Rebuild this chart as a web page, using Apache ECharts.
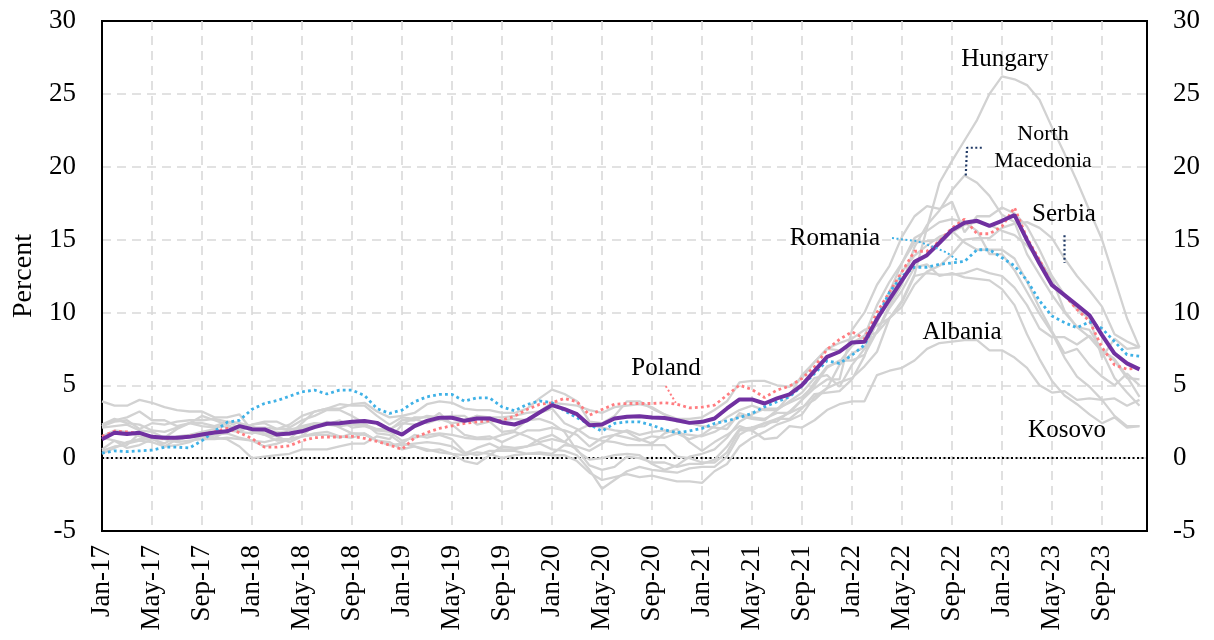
<!DOCTYPE html>
<html>
<head>
<meta charset="utf-8">
<script src="https://cdn.jsdelivr.net/npm/echarts@6/dist/echarts.min.js"></script>
<style>html,body{margin:0;padding:0;background:#fff}#chart{width:1214px;height:640px}</style>
</head>
<body>
<div id="chart"></div>
<script>
// Tick labels every 4 months (Jan-17 ... Sep-23)
const tickLabels = ['Jan-17','May-17','Sep-17','Jan-18','May-18','Sep-18','Jan-19','May-19','Sep-19',
  'Jan-20','May-20','Sep-20','Jan-21','May-21','Sep-21','Jan-22','May-22','Sep-22','Jan-23','May-23','Sep-23'];

// Monthly values, Jan-17 .. Dec-23 (84 months)
const average = [
  1.30,1.74,1.65,1.74,1.46,1.40,1.40,1.46,1.62,1.76,1.84,2.20,
  1.99,1.97,1.62,1.69,1.84,2.13,2.36,2.40,2.49,2.55,2.42,1.97,
  1.62,2.20,2.56,2.77,2.77,2.56,2.72,2.72,2.45,2.31,2.60,3.13,
  3.64,3.36,3.02,2.26,2.31,2.72,2.84,2.88,2.79,2.75,2.60,2.42,
  2.49,2.72,3.41,4.03,4.03,3.75,4.10,4.37,5.01,5.99,6.95,7.30,
  7.94,7.98,9.55,10.9,12.2,13.47,13.93,14.78,15.65,16.15,16.29,15.94,
  16.29,16.68,14.96,13.36,11.87,11.19,10.50,9.81,8.44,7.18,6.50,6.09];
const poland = [
  1.50,1.85,1.80,1.70,1.45,1.35,1.40,1.50,1.65,1.80,2.05,1.75,
  1.35,0.75,0.75,0.85,1.20,1.40,1.45,1.45,1.50,1.35,1.15,0.90,
  0.60,1.40,1.76,2.04,2.22,2.38,2.49,2.56,2.60,2.88,3.34,3.69,
  3.80,4.10,3.87,2.95,3.34,3.70,3.75,3.75,3.75,3.80,3.70,3.45,
  3.50,3.64,4.32,5.01,4.71,4.16,4.67,4.94,5.47,6.27,7.46,8.15,
  8.67,8.20,10.0,11.4,12.8,14.2,14.2,14.9,15.8,16.4,15.4,15.4,
  15.9,17.2,15.1,13.6,11.9,11.2,10.2,9.4,7.6,6.4,6.1,6.2];
const romania = [
  0.35,0.50,0.45,0.50,0.55,0.75,0.75,0.70,1.20,1.85,2.45,2.60,
  3.35,3.75,3.95,4.25,4.55,4.67,4.40,4.67,4.67,4.30,3.40,3.07,
  3.30,3.87,4.21,4.37,4.37,3.91,4.14,4.14,3.52,3.25,3.68,3.93,
  3.80,3.25,2.77,2.31,1.85,2.38,2.49,2.49,2.26,1.95,1.74,1.87,
  2.04,2.38,2.56,2.79,3.07,3.52,3.87,4.21,4.95,5.80,6.68,6.50,
  7.07,7.76,9.60,11.4,12.5,13.1,13.1,13.3,13.4,13.5,14.3,14.3,
  13.75,13.2,12.2,10.8,9.75,9.30,8.95,9.36,8.90,8.00,7.10,7.00];
const hungary = [
  2.3,2.7,2.4,2.3,1.9,1.8,2.1,2.4,2.4,2.2,2.5,2.1,
  2.1,2.1,2.0,2.3,2.9,3.2,3.4,3.4,3.7,3.8,3.2,2.8,
  2.9,3.1,3.7,3.9,3.8,3.4,3.3,3.3,3.1,3.1,3.4,4.1,
  4.7,4.4,3.9,2.5,2.4,2.9,3.9,3.9,3.4,3.0,2.7,2.7,
  2.8,3.3,3.9,5.2,5.3,5.3,5.0,4.9,5.5,6.6,7.5,7.4,
  7.9,8.4,8.6,9.6,10.8,12.6,15.8,18.9,20.4,21.8,23.2,25.0,
  26.2,26.0,25.6,24.6,22.7,20.9,19.0,17.0,15.0,12.3,9.6,7.6];
const northMacedonia = [
  0.6,1.2,0.7,0.9,1.3,1.0,1.5,1.6,1.8,2.0,2.5,2.4,
  1.8,1.6,1.2,1.3,1.5,1.7,1.8,1.5,1.4,1.7,1.2,0.9,
  1.0,1.6,1.4,1.6,1.3,0.4,0.2,0.5,0.5,0.5,0.3,0.4,
  0.3,0.9,0.8,0.5,1.0,1.6,1.4,1.2,1.5,1.4,1.7,1.6,
  1.5,1.8,2.3,2.9,2.7,2.6,3.3,3.9,4.5,5.5,5.7,4.9,
  6.4,7.5,8.7,10.5,11.9,14.5,16.0,17.0,18.4,19.4,18.9,18.0,
  16.7,16.2,14.0,12.6,11.2,10.0,9.0,8.3,7.3,5.5,4.5,3.6];
const serbia = [
  3.9,3.6,3.6,4.0,3.8,3.5,3.3,3.2,3.2,2.8,2.8,3.0,
  1.9,1.6,1.5,1.1,1.5,2.3,2.3,2.6,2.1,2.2,1.9,2.0,
  2.4,2.3,2.5,3.1,2.3,1.6,1.4,1.5,1.1,1.5,1.9,1.9,
  2.1,1.9,1.6,0.8,1.4,1.6,1.9,1.6,1.8,1.9,1.7,1.3,
  1.6,2.2,2.8,3.3,3.6,3.3,3.3,4.3,5.7,6.6,7.5,7.9,
  8.2,8.8,9.1,9.6,10.4,11.9,12.8,13.2,14.0,15.0,15.1,15.1,
  15.8,16.1,16.2,15.8,15.1,13.7,12.5,11.5,10.4,8.5,8.0,7.6];
const albania = [
  2.1,2.2,2.3,1.9,1.8,1.4,2.0,2.4,2.2,2.1,2.2,1.8,
  2.3,2.4,2.0,2.0,2.0,2.4,2.3,2.2,2.3,2.3,1.9,1.8,
  1.2,1.4,1.6,1.7,1.6,1.4,1.3,1.3,1.6,1.8,1.5,1.1,
  1.3,1.1,1.9,2.3,2.1,1.9,1.8,1.3,1.0,1.7,2.0,1.1,
  0.5,1.1,1.6,2.2,1.9,1.3,1.4,2.2,2.1,2.6,3.3,3.7,
  3.9,3.9,5.7,6.0,6.2,6.7,7.5,7.9,8.0,8.1,8.1,7.4,
  7.4,6.9,6.2,5.0,4.5,4.6,4.0,4.1,4.0,4.1,3.6,4.0];
const kosovo = [
  1.5,1.9,1.8,1.5,1.3,1.5,1.2,1.5,1.6,1.4,1.3,0.8,
  0.0,0.1,0.2,0.3,0.6,0.6,0.6,0.8,1.0,1.0,1.5,1.3,
  2.3,2.8,2.8,2.6,2.9,2.9,2.3,2.5,2.6,2.7,2.6,2.7,
  2.4,1.8,0.5,-0.1,0.0,0.2,0.3,0.2,-0.4,-0.8,-0.5,0.1,
  0.3,0.6,1.4,2.5,3.0,3.4,3.4,3.8,4.2,5.0,6.2,6.7,
  6.7,7.1,8.7,10.3,11.5,13.1,13.3,12.5,12.7,12.4,12.3,12.2,
  11.6,10.5,8.5,6.8,5.3,4.3,3.7,3.0,2.4,2.8,2.1,2.2];
const bosnia = [
  0.3,0.7,1.1,1.3,1.3,1.3,1.1,1.2,1.3,1.3,1.4,1.3,
  1.2,1.1,1.3,1.3,1.5,1.6,1.6,1.4,1.7,1.7,1.2,1.1,
  0.6,0.8,0.5,0.6,0.3,0.2,0.4,0.3,0.0,0.2,0.3,0.3,
  0.2,0.2,-0.2,-1.0,-1.5,-1.3,-1.1,-1.3,-1.2,-1.4,-1.6,-1.6,
  -1.7,-0.9,-0.4,0.8,1.4,1.8,2.3,2.6,3.0,4.2,4.8,6.4,
  7.2,7.6,9.3,11.4,13.4,15.1,15.6,16.2,16.4,16.2,15.6,14.0,
  14.0,12.9,11.4,9.9,8.6,6.9,5.6,4.9,4.0,2.9,2.2,2.2];
const montenegro = [
  2.2,2.6,2.8,3.2,2.6,2.6,2.2,2.4,2.9,2.6,2.3,1.9,
  2.3,2.5,2.5,2.1,2.6,2.9,3.3,3.3,2.9,2.4,1.7,1.6,
  1.0,0.8,0.6,0.4,0.3,-0.2,-0.4,0.2,0.8,0.7,0.8,1.0,
  0.6,0.5,0.2,-0.8,-2.1,-1.5,-0.9,-0.6,-0.8,-0.9,-1.0,-0.7,
  -0.6,-0.6,0.1,1.6,2.1,2.4,2.7,2.7,3.4,4.4,4.5,4.6,
  5.4,7.0,9.7,11.1,12.8,13.9,14.6,15.2,15.5,16.0,16.2,16.0,
  15.6,15.3,14.6,13.6,12.3,10.1,9.0,8.8,7.4,6.8,5.6,4.2];
const bulgaria = [
  0.5,0.8,0.9,1.7,1.4,0.8,0.9,1.1,1.5,1.4,1.9,1.8,
  1.7,1.9,1.8,1.6,2.4,3.2,3.4,3.7,3.6,3.6,2.9,2.3,
  2.8,2.7,2.4,2.7,2.4,2.5,2.9,2.5,1.8,1.9,2.6,3.1,
  3.4,2.4,2.0,1.4,1.2,1.1,0.9,0.9,0.9,0.9,0.1,0.0,
  -0.3,-0.3,0.4,1.9,1.9,2.4,2.5,3.2,4.0,5.2,6.3,6.6,
  7.7,8.4,10.5,12.1,13.4,14.8,14.9,15.0,15.6,14.8,14.3,14.3,
  14.3,13.7,12.1,10.3,8.7,7.2,7.5,6.4,5.6,5.0,5.8,5.0];
const croatia = [
  1.4,1.2,1.0,1.2,1.1,0.8,1.3,1.5,1.3,1.6,1.7,1.4,
  1.2,0.8,1.0,1.3,2.1,2.2,2.5,2.1,1.7,1.6,1.2,0.9,
  0.9,1.0,1.1,1.0,0.8,0.3,0.7,1.0,0.6,0.6,0.8,1.3,
  1.6,1.1,0.6,-0.5,-0.8,-0.6,0.1,0.0,-0.3,-0.3,-0.6,-0.4,
  -0.4,-0.1,0.8,2.0,2.1,2.2,2.7,3.1,3.5,4.0,4.8,5.2,
  5.5,6.3,7.3,9.6,10.7,12.5,12.7,12.6,12.6,12.7,13.0,12.7,
  12.5,11.7,10.5,8.9,8.3,8.3,7.8,8.4,7.4,6.7,5.5,5.4];
const czechia = [
  2.2,2.5,2.6,2.0,2.4,2.3,2.5,2.6,2.6,2.7,2.5,2.4,
  2.2,1.7,1.7,1.9,2.2,2.4,2.3,2.4,2.3,2.3,2.0,1.9,
  2.6,2.6,2.9,2.8,2.9,2.6,2.9,2.8,2.8,2.9,3.1,3.2,
  3.8,3.7,3.6,3.3,3.1,3.5,3.6,3.7,3.5,3.0,2.5,2.4,
  2.2,2.1,2.0,3.1,2.8,2.7,3.1,3.1,4.0,4.8,5.4,5.4,
  8.8,10.0,11.9,13.2,15.2,16.6,17.3,17.1,17.6,15.5,16.6,16.6,
  17.2,16.8,15.9,14.3,12.5,11.2,10.2,9.6,6.9,8.2,7.5,7.6];

// Leader lines, in data units [month index, percent]
const leaderPoland = [[45.1, 4.95], [45.9, 3.8]];
const leaderRomania = [[63.2, 15.1], [65.2, 14.9], [66.5, 14.5], [67.6, 14.1], [68.4, 13.6]];
const leaderNorthMacedonia = [[69.1, 19.4], [69.2, 21.3], [70.4, 21.3]];
const leaderSerbia = [[77.0, 15.3], [77.0, 13.4]];

const FONT = '"Liberation Serif", "Times New Roman", serif';
const toXY = arr => arr.map((v, i) => [i, v]);

const greys = [
  ['Hungary', hungary], ['North Macedonia', northMacedonia], ['Serbia', serbia],
  ['Albania', albania], ['Kosovo', kosovo], ['Bosnia and Herzegovina', bosnia],
  ['Montenegro', montenegro], ['Bulgaria', bulgaria], ['Croatia', croatia], ['Czech Republic', czechia]
];

const series = [];
series.push({
  name: 'zero', type: 'line', data: [], silent: true,
  markLine: {
    silent: true, symbol: 'none', z: 1, label: {show: false},
    lineStyle: {color: '#000', width: 2, type: [2, 2.5]},
    emphasis: {disabled: true},
    data: [{yAxis: 0}]
  }
});
greys.forEach(([name, arr]) => series.push({
  name, type: 'line', data: toXY(arr), showSymbol: false, silent: true, z: 2,
  lineStyle: {color: '#d2d2d2', width: 2.3}
}));
series.push({
  name: 'Poland', type: 'line', data: toXY(poland), showSymbol: false, silent: true, z: 3,
  lineStyle: {color: '#ff7c80', width: 2.8, type: [2.8, 3.2]}
});
series.push({
  name: 'Romania', type: 'line', data: toXY(romania), showSymbol: false, silent: true, z: 3,
  lineStyle: {color: '#3fb1e6', width: 2.8, type: [2.8, 3.2]}
});
series.push({
  name: 'Average', type: 'line', data: toXY(average), showSymbol: false, silent: true, z: 4,
  lineStyle: {color: '#7030a0', width: 4}
});
const leader = (name, pts, color, w) => ({
  name, type: 'line', data: pts, showSymbol: false, silent: true, z: 5,
  lineStyle: {color, width: w, type: [2, 2.5]}
});
series.push(leader('leaderPoland', leaderPoland, '#ff7c80', 2));
series.push(leader('leaderRomania', leaderRomania, '#3fb1e6', 2));
series.push(leader('leaderNorthMacedonia', leaderNorthMacedonia, '#1f3864', 2.2));
series.push(leader('leaderSerbia', leaderSerbia, '#1f3864', 2.2));

const note = (text, x, y, size) => ({
  type: 'text', x, y, silent: true, z: 10,
  style: {text, font: size + 'px ' + FONT, fill: '#000',
    textAlign: 'center', textVerticalAlign: 'middle', align: 'center', verticalAlign: 'middle'}
});

const splitStyle = {color: '#d9d9d9', width: 1.6, type: [9, 6]};
const chart = echarts.init(document.getElementById('chart'), null, {renderer: 'canvas'});
chart.setOption({
  animation: false,
  backgroundColor: '#fff',
  grid: {left: 102, right: 67, top: 21, bottom: 109, show: true, borderColor: '#000', borderWidth: 2, containLabel: false},
  xAxis: {
    type: 'value', min: 0, max: 83.6, interval: 4,
    axisLine: {show: true, onZero: false, lineStyle: {color: '#000', width: 2}},
    axisTick: {show: false},
    axisLabel: {
      rotate: 90, margin: 14, fontSize: 27, fontFamily: FONT, color: '#000',
      showMaxLabel: false,
      formatter: v => (Math.abs(v % 4) < 1e-9 && tickLabels[Math.round(v / 4)] !== undefined) ? tickLabels[Math.round(v / 4)] : ''
    },
    splitLine: {show: true, showMinLine: false, showMaxLine: false, lineStyle: splitStyle}
  },
  yAxis: [{
    type: 'value', min: -5, max: 30, interval: 5, position: 'left',
    name: 'Percent', nameLocation: 'middle', nameGap: 63,
    nameTextStyle: {fontSize: 28, fontFamily: FONT, color: '#000'},
    axisLine: {show: true, onZero: false, lineStyle: {color: '#000', width: 2}},
    axisTick: {show: false},
    axisLabel: {margin: 26, fontSize: 27, fontFamily: FONT, color: '#000'},
    splitLine: {show: true, showMinLine: false, showMaxLine: false, lineStyle: splitStyle}
  }, {
    type: 'value', min: -5, max: 30, interval: 5, position: 'right',
    axisLine: {show: true, onZero: false, lineStyle: {color: '#000', width: 2}},
    axisTick: {show: false},
    axisLabel: {margin: 26, fontSize: 27, fontFamily: FONT, color: '#000'},
    splitLine: {show: false}
  }],
  series,
  graphic: [
    note('Hungary', 1005, 59, 25),
    note('North', 1043, 134, 22),
    note('Macedonia', 1043, 161, 22),
    note('Serbia', 1064, 214, 25),
    note('Romania', 835, 238, 25),
    note('Albania', 962, 332, 25),
    note('Poland', 666, 368, 25),
    note('Kosovo', 1067, 430, 25)
  ]
});
</script>
</body>
</html>
